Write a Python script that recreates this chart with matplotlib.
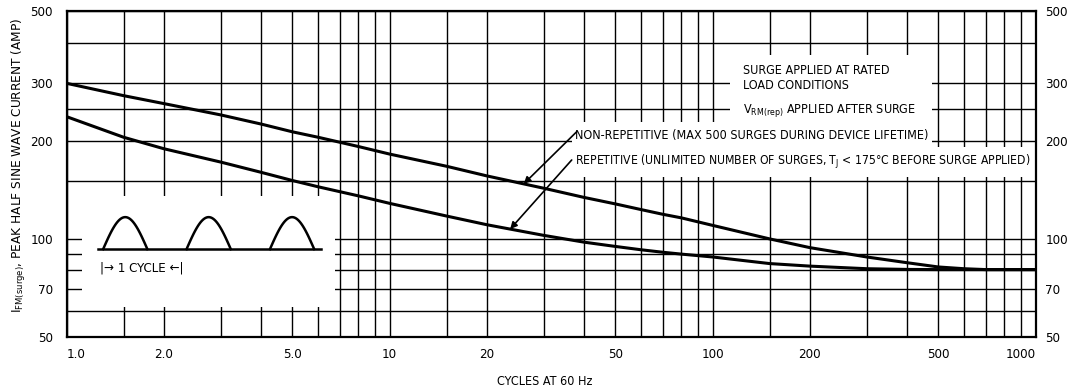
import numpy as np
import matplotlib.pyplot as plt
from matplotlib.patches import Rectangle
from matplotlib.ticker import FixedLocator, FixedFormatter, NullFormatter

plt.rcParams['font.family'] = ['DejaVu Sans']
plt.rcParams['font.stretch'] = 'condensed'
plt.rcParams['mathtext.fontset'] = 'dejavusans'

# surge curves (cycles at 60 Hz -> peak amps)
cycles = [1, 1.5, 2, 3, 4, 5, 6, 8, 10, 15, 20, 30, 40, 50, 60, 70, 80,
          100, 150, 200, 300, 400, 500, 600, 700, 1000]
non_repetitive = [300, 275, 260, 240, 225, 213, 205, 192, 182, 167, 156, 143,
                  134, 128, 123, 119, 116, 110, 100, 94, 88, 84.5, 82, 81,
                  80.5, 80.5]
repetitive = [237, 205, 189, 172, 160, 151, 144.5, 135.5, 128.5, 117.5, 110.5,
              102.5, 97.7, 94.8, 92.6, 91, 89.8, 88, 84, 82.5, 81, 80.6, 80.5,
              80.5, 80.5, 80.5]

x_major = [1, 2, 5, 10, 20, 50, 100, 200, 500, 1000]
x_labels = ['1.0', '2.0', '5.0', '10', '20', '50', '100', '200', '500', '1000']
x_minor = [1.5, 3, 4, 6, 7, 8, 9, 15, 30, 40, 60, 70, 80, 90,
           150, 300, 400, 600, 700, 800, 900]
y_major = [50, 70, 100, 200, 300, 500]
y_labels = ['50', '70', '100', '200', '300', '500']
y_minor = [60, 80, 90, 150, 250, 400]

# inset sketch: three half-sine pulses, one per cycle
pulse_starts = [0, 1, 2]
pulse_width = 0.53


def on_curve(x, ys):
    return 10 ** np.interp(np.log10(x), np.log10(cycles), np.log10(ys))


fig = plt.figure(figsize=(10.73, 3.88), dpi=100)
ax = fig.add_axes([0.0622, 0.1314, 0.9030, 0.8402])
ax.set_xscale('log')
ax.set_yscale('log')
ax.set_xlim(1, 1000)
ax.set_ylim(50, 500)
ax.set_axisbelow(True)

ax.xaxis.set_major_locator(FixedLocator(x_major))
ax.xaxis.set_major_formatter(FixedFormatter(x_labels))
ax.xaxis.set_minor_locator(FixedLocator(x_minor))
ax.xaxis.set_minor_formatter(NullFormatter())
ax.yaxis.set_major_locator(FixedLocator(y_major))
ax.yaxis.set_major_formatter(FixedFormatter(y_labels))
ax.yaxis.set_minor_locator(FixedLocator(y_minor))
ax.yaxis.set_minor_formatter(NullFormatter())
ax.grid(True, which='both', color='black', lw=1.0)
ax.tick_params(which='both', length=0, labelsize=9.5)
ax.tick_params(axis='x', pad=8)
ax.tick_params(axis='y', pad=10)
xt = ax.get_xticklabels()
xt[0].set_ha('left')
xt[-1].set_ha('right')
for s in ax.spines.values():
    s.set_linewidth(1.6)

ax2 = ax.twinx()
ax2.set_yscale('log')
ax2.set_ylim(50, 500)
ax2.yaxis.set_major_locator(FixedLocator(y_major))
ax2.yaxis.set_major_formatter(FixedFormatter(y_labels))
ax2.yaxis.set_minor_locator(FixedLocator(y_minor))
ax2.yaxis.set_minor_formatter(NullFormatter())
ax2.tick_params(which='both', length=0, labelsize=9.5, pad=7)
for s in ax2.spines.values():
    s.set_visible(False)

ax.set_xlabel('CYCLES AT 60 Hz', fontsize=9)
ax.xaxis.set_label_coords(0.4936, -0.115)
ax.set_ylabel(r'I$_{\mathrm{FM(surge)}}$, PEAK HALF SINE WAVE CURRENT (AMP)', fontsize=9.7)
ax.yaxis.set_label_coords(-0.040, 0.528)

# white areas behind the notes (grid blanked out as on the datasheet)
for x0, y0, w, h in [(0.6845, 0.6595, 0.2085, 0.2055),
                     (0.5215, 0.5828, 0.3715, 0.0767),
                     (0.5215, 0.4908, 0.4726, 0.0920)]:
    ax.add_patch(Rectangle((x0, y0), w, h, transform=ax.transAxes,
                           facecolor='white', edgecolor='none', zorder=2))

ax.plot(cycles, non_repetitive, color='black', lw=2.2, zorder=3)
ax.plot(cycles, repetitive, color='black', lw=2.2, zorder=3)

txt = dict(fontsize=9, va='center', ha='left', zorder=4)
ax.text(124, 328, 'SURGE APPLIED AT RATED', **txt)
ax.text(124, 294.5, 'LOAD CONDITIONS', **txt)
ax.text(124, 248.5, r'V$_{\mathrm{RM(rep)}}$ APPLIED AFTER SURGE', **txt)
ax.text(37.5, 208, 'NON-REPETITIVE (MAX 500 SURGES DURING DEVICE LIFETIME)', **txt)
txt['fontsize'] = 8.7
ax.text(37.5, 172.5, r'REPETITIVE (UNLIMITED NUMBER OF SURGES, T$_{\mathrm{J}}$ < 175°C BEFORE SURGE APPLIED)', **txt)

arrow = dict(arrowstyle='-|>', color='black', lw=1.2, mutation_scale=10,
             shrinkA=0, shrinkB=0)
ax.annotate('', xy=(26, on_curve(26, non_repetitive)), xytext=(37.9, 213),
            arrowprops=arrow, zorder=4)
ax.annotate('', xy=(23.6, on_curve(23.6, repetitive)), xytext=(36.6, 174.6),
            arrowprops=arrow, zorder=4)

# inset with the pulse sketch
ins = ax.inset_axes([0.0158, 0.092, 0.2611, 0.3405], zorder=2)
ins.set_facecolor('white')
for s in ins.spines.values():
    s.set_visible(False)
ins.set_xticks([])
ins.set_yticks([])
ins.set_xlim(-0.253, 2.78)
ins.set_ylim(-1.81, 1.66)
t = np.linspace(0, 1, 60)
for s0 in pulse_starts:
    ins.plot(s0 + pulse_width * t, np.sin(np.pi * t), color='black', lw=1.8)
ins.plot([-0.06, 2.61], [0, 0], color='black', lw=1.8)
ins.text(-0.04, -0.59, '|→ 1 CYCLE ←|', fontsize=9.5, va='center', ha='left')

fig.savefig('out.png', dpi=100)
